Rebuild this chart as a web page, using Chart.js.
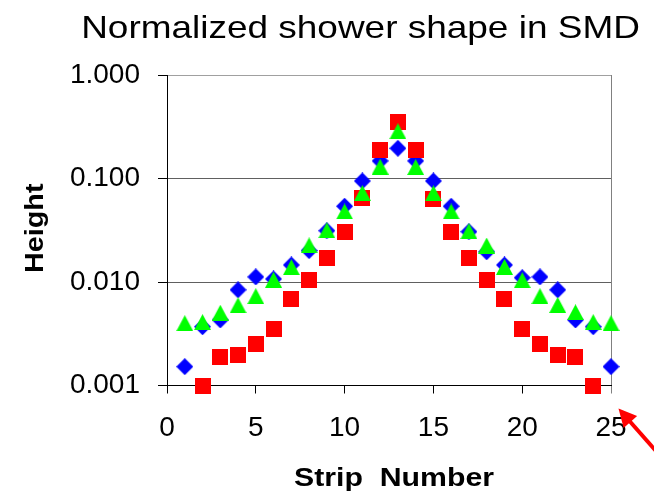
<!DOCTYPE html>
<html>
<head>
<meta charset="utf-8">
<title>Normalized shower shape in SMD</title>
<script src="https://cdn.jsdelivr.net/npm/chart.js@4/dist/chart.umd.min.js"></script>
<style>
  html, body { margin: 0; padding: 0; background: #fff; }
</style>
</head>
<body>
<canvas id="myChart" width="654" height="494"></canvas>
<script>
// strip index and normalized height per strip, one list per shower sample
var strips = [1, 2, 3, 4, 5, 6, 7, 8, 9, 10, 11, 12, 13, 14, 15, 16, 17, 18, 19, 20, 21, 22, 23, 24, 25];
var blueHeights = [0.00152, 0.0037, 0.0043, 0.0084, 0.0112, 0.0107, 0.0146, 0.0201, 0.0313, 0.054, 0.0946, 0.148, 0.196,
                   0.148, 0.0946, 0.054, 0.0306, 0.0196, 0.0146, 0.011, 0.0112, 0.0084, 0.0043, 0.0037, 0.00152];
var redHeights = [null, 0.001, 0.0019, 0.00197, 0.0025, 0.00349, 0.00686, 0.0104, 0.0171, 0.0304, 0.0643, 0.188, 0.354,
                  0.188, 0.064, 0.0304, 0.0171, 0.0104, 0.00686, 0.0035, 0.0025, 0.00197, 0.0019, 0.001, null];
var greenHeights = [0.004, 0.0041, 0.00505, 0.00595, 0.0073, 0.0105, 0.0139, 0.0226, 0.0316, 0.048, 0.0724, 0.13, 0.286,
                    0.129, 0.072, 0.048, 0.031, 0.0225, 0.014, 0.0104, 0.0073, 0.006, 0.0051, 0.0041, 0.004];
var yTicks = [0.001, 0.01, 0.1, 1];
var xTickStep = 5;

var chartTitle = "Normalized shower shape in SMD";
var xTitle = "Strip  Number";
var yTitle = "Height";

var FONT = "'Liberation Sans', Arial, sans-serif";

function points(values) {
  var out = [];
  values.forEach(function (v, i) {
    if (v !== null) out.push({ x: strips[i], y: v });
  });
  return out;
}

// small canvases used as point markers (drawn centred on the value)
function marker(w, h, color, shape) {
  var c = document.createElement("canvas");
  c.width = w;
  c.height = h;
  var g = c.getContext("2d");
  g.fillStyle = color;
  g.beginPath();
  shape(g, w, h);
  g.closePath();
  g.fill();
  return c;
}
var diamond = marker(17, 17, "#0000ff", function (g, w, h) {
  g.moveTo(w / 2, 0); g.lineTo(w, h / 2); g.lineTo(w / 2, h); g.lineTo(0, h / 2);
});
var square = marker(16, 16, "#ff0000", function (g, w, h) {
  g.rect(0, 0, w, h);
});
var triangle = marker(17, 16, "#00ff00", function (g, w, h) {
  g.moveTo(w / 2, 0); g.lineTo(w, h); g.lineTo(0, h);
});

function drawText(ctx, text, font, x, y, stretch, rotate) {
  ctx.save();
  ctx.font = font;
  ctx.fillStyle = "#000";
  ctx.textAlign = "center";
  ctx.textBaseline = "alphabetic";
  ctx.translate(x, y);
  if (rotate) ctx.rotate(rotate);
  ctx.scale(stretch, 1);
  ctx.fillText(text, 0, 0);
  ctx.restore();
}

// titles (slightly widened) and the red pointer arrow under the last strip
var textLayer = {
  id: "textLayer",
  afterDraw: function (chart) {
    var ctx = chart.ctx;
    var area = chart.chartArea;
    drawText(ctx, chartTitle, "32px " + FONT, 360.5, 38, 1.155, 0);
    drawText(ctx, xTitle, "bold 25px " + FONT, (area.left + area.right) / 2 + 5, 485.5, 1.21, 0);
    drawText(ctx, yTitle, "bold 25px " + FONT, 42.5, (area.top + area.bottom) / 2 - 2, 1.15, -Math.PI / 2);

    ctx.save();
    ctx.fillStyle = "#ff0000";
    ctx.strokeStyle = "#ff0000";
    ctx.translate(area.right + 7.5, area.bottom + 23);
    ctx.rotate(Math.atan2(0.75, 0.66));
    ctx.beginPath();
    ctx.moveTo(0, 0);
    ctx.lineTo(18, -9);
    ctx.lineTo(18, 9);
    ctx.closePath();
    ctx.fill();
    ctx.lineWidth = 4;
    ctx.beginPath();
    ctx.moveTo(16, 0);
    ctx.lineTo(100, 0);
    ctx.stroke();
    ctx.restore();
  }
};

function dataset(label, values, style, order) {
  return {
    label: label,
    data: points(values),
    pointStyle: style,
    pointRadius: 8,
    pointHoverRadius: 8,
    showLine: false,
    clip: false,
    order: order
  };
}

var ctx = document.getElementById("myChart").getContext("2d");
var myChart = new Chart(ctx, {
  type: "scatter",
  data: {
    datasets: [
      dataset("Sample A", blueHeights, diamond, 3),
      dataset("Sample B", redHeights, square, 2),
      dataset("Sample C", greenHeights, triangle, 1)
    ]
  },
  options: {
    responsive: false,
    animation: false,
    events: [],
    layout: { padding: { top: 75, right: 43, bottom: 0, left: 0 } },
    plugins: {
      legend: { display: false },
      title: { display: false },
      tooltip: { enabled: false }
    },
    scales: {
      x: {
        type: "linear",
        min: 0,
        max: 25,
        ticks: {
          stepSize: xTickStep,
          maxRotation: 0,
          padding: 18,
          color: "#000",
          font: { family: FONT, size: 28 }
        },
        grid: {
          drawOnChartArea: true,
          // only the right-hand frame line is drawn inside the plot
          color: function (c) {
            return c.tick && c.tick.value === 25 ? "#808080" : "rgba(0,0,0,0)";
          },
          tickColor: function (c) {
            return c.tick && c.tick.value === 25 ? "#808080" : "#000";
          },
          tickLength: 8
        },
        border: { color: "#000", width: 1 },
        afterFit: function (scale) { scale.height = 108.5; }
      },
      y: {
        type: "logarithmic",
        min: 0.001,
        max: 1,
        afterBuildTicks: function (scale) {
          scale.ticks = yTicks.map(function (v) { return { value: v }; });
        },
        ticks: {
          padding: 18,
          color: "#000",
          font: { family: FONT, size: 28 },
          callback: function (v) { return Number(v).toFixed(3); }
        },
        grid: {
          color: function (c) {
            if (!c.tick) return "rgba(0,0,0,0)";
            if (c.tick.value === 1) return "#a0a0a0";
            if (c.tick.value === 0.001) return "rgba(0,0,0,0)";
            return "#606060";
          },
          tickColor: "#000",
          tickLength: 9
        },
        border: { color: "#000", width: 1 },
        afterFit: function (scale) { scale.width = 167; }
      }
    }
  },
  plugins: [textLayer]
});
</script>
</body>
</html>
